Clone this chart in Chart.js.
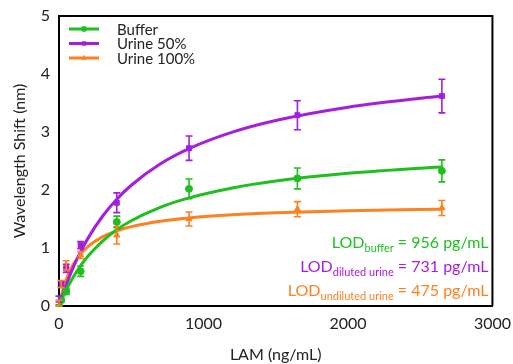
<!DOCTYPE html>
<html>
<head>
<meta charset="utf-8">
<script src="https://cdn.jsdelivr.net/npm/chart.js@4/dist/chart.umd.min.js"></script>
<style>
html,body{margin:0;padding:0;background:#fff;}
#wrap{width:513px;height:364px;}
</style>
</head>
<body>
<div id="wrap"><canvas id="c" width="513" height="364"></canvas></div>
<script>
// ---- data ----
const xPoints   = [0, 15, 50, 150, 400, 900, 1650, 2650];
const bufferY   = [0, 0.10, 0.25, 0.60, 1.45, 2.02, 2.20, 2.33];
const bufferErr = [0.02, 0.03, 0.05, 0.09, 0.10, 0.17, 0.18, 0.19];
const urine50Y   = [0.12, 0.37, 0.65, 1.05, 1.78, 2.72, 3.29, 3.62];
const urine50Err = [0.05, 0.05, 0.07, 0.06, 0.17, 0.21, 0.25, 0.29];
const urine100Y   = [0.05, 0.38, 0.70, 0.88, 1.22, 1.50, 1.67, 1.69];
const urine100Err = [0.05, 0.06, 0.08, 0.06, 0.15, 0.12, 0.13, 0.13];

// fitted curves
const fitX        = [0, 25, 50, 100, 150, 200, 300, 400, 500, 700, 900, 1200, 1500, 2000, 2500, 2656];
const bufferFit   = [0, 0.146, 0.278, 0.505, 0.696, 0.857, 1.115, 1.313, 1.470, 1.702, 1.865, 2.036, 2.155, 2.288, 2.377, 2.398];
const urine50Fit  = [0, 0.190, 0.365, 0.673, 0.937, 1.166, 1.543, 1.841, 2.082, 2.448, 2.713, 2.997, 3.198, 3.427, 3.581, 3.620];
const urine100Fit = [0, 0.261, 0.455, 0.723, 0.899, 1.025, 1.191, 1.295, 1.368, 1.461, 1.518, 1.572, 1.606, 1.642, 1.664, 1.670];

const seriesNames = ['Buffer', 'Urine 50%', 'Urine 100%'];
const xTicks = [0, 1000, 2000, 3000];
const yTicks = [0, 1, 2, 3, 4, 5];
const lodLines = [
  ['LOD', 'buffer', ' = 956 pg/mL'],
  ['LOD', 'diluted urine', ' = 731 pg/mL'],
  ['LOD', 'undiluted urine', ' = 475 pg/mL']
];

const colors = ['#1fbf1f', '#a41ee0', '#ff8020'];
const styles = ['circle', 'rect', 'triangle'];
const FONT = 'Lato, "Open Sans", sans-serif';

const pts = (xs, ys) => xs.map((x, i) => ({x: x, y: ys[i]}));
const pointSets = [bufferY, urine50Y, urine100Y];
const errSets = [bufferErr, urine50Err, urine100Err];
const fitSets = [bufferFit, urine50Fit, urine100Fit];

const datasets = [];
for (let s = 0; s < 3; s++) {
  datasets.push({
    label: seriesNames[s] + ' fit',
    data: pts(fitX, fitSets[s]),
    showLine: true,
    borderColor: colors[s],
    borderWidth: 3,
    pointRadius: 0,
    cubicInterpolationMode: 'monotone',
    fill: false,
    order: 2
  });
}
for (let s = 0; s < 3; s++) {
  datasets.push({
    label: seriesNames[s],
    data: pts(xPoints, pointSets[s]),
    showLine: false,
    backgroundColor: colors[s],
    borderColor: colors[s],
    pointStyle: styles[s],
    pointRadius: 3.5,
    borderWidth: 1,
    errors: errSets[s],
    order: 1
  });
}

const decor = {
  id: 'decor',
  afterDatasetsDraw(chart) {
    const ctx = chart.ctx;
    const xs = chart.scales.x, ys = chart.scales.y;
    const a = chart.chartArea;
    ctx.save();
    // error bars
    for (let s = 0; s < 3; s++) {
      const ds = chart.data.datasets[3 + s];
      ctx.strokeStyle = colors[s];
      ctx.lineWidth = 1.6;
      ds.data.forEach((p, i) => {
        const e = ds.errors[i];
        const px = xs.getPixelForValue(p.x);
        const y1 = ys.getPixelForValue(p.y + e);
        const y2 = ys.getPixelForValue(Math.max(0, p.y - e));
        ctx.beginPath();
        ctx.moveTo(px, y1); ctx.lineTo(px, y2);
        ctx.moveTo(px - 3.5, y1); ctx.lineTo(px + 3.5, y1);
        ctx.moveTo(px - 3.5, y2); ctx.lineTo(px + 3.5, y2);
        ctx.stroke();
      });
    }
    // top and right frame
    ctx.strokeStyle = '#000';
    ctx.lineWidth = 2;
    ctx.beginPath();
    ctx.moveTo(a.left, a.top); ctx.lineTo(a.right, a.top); ctx.lineTo(a.right, a.bottom);
    ctx.stroke();
    // legend
    ctx.font = '15px ' + FONT;
    ctx.textBaseline = 'middle';
    ctx.textAlign = 'left';
    for (let s = 0; s < 3; s++) {
      const y = a.top + 13 + s * 14.5;
      ctx.strokeStyle = colors[s];
      ctx.lineWidth = 3;
      ctx.beginPath(); ctx.moveTo(a.left + 10, y); ctx.lineTo(a.left + 40, y); ctx.stroke();
      ctx.fillStyle = colors[s];
      ctx.lineWidth = 0.5;
      Chart.helpers.drawPoint(ctx, {pointStyle: styles[s], radius: 2.8, borderWidth: 0.5, rotation: 0}, a.left + 25, y);
      ctx.fillStyle = '#222';
      ctx.fillText(seriesNames[s], a.left + 58, y + 1);
    }
    // LOD annotations
    const big = '16px ' + FONT, small = '11px ' + FONT;
    const right = a.right - 4;
    for (let s = 0; s < 3; s++) {
      const [m, sub, rest] = lodLines[s];
      const base = a.bottom - 58 + s * 24;
      ctx.font = big; const w1 = ctx.measureText(m).width; const w3 = ctx.measureText(rest).width;
      ctx.font = small; const w2 = ctx.measureText(sub).width;
      let x = right - (w1 + w2 + w3);
      ctx.fillStyle = colors[s];
      ctx.textBaseline = 'alphabetic';
      ctx.font = big; ctx.fillText(m, x, base); x += w1;
      ctx.font = small; ctx.fillText(sub, x, base + 4); x += w2;
      ctx.font = big; ctx.fillText(rest, x, base);
    }
    ctx.restore();
  }
};

new Chart(document.getElementById('c'), {
  type: 'scatter',
  data: {datasets: datasets},
  options: {
    responsive: false,
    animation: false,
    layout: {padding: {top: 16, right: 19, left: 0, bottom: 0}},
    plugins: {legend: {display: false}, tooltip: {enabled: false}},
    scales: {
      x: {
        type: 'linear', min: 0, max: 3000,
        afterBuildTicks: sc => { sc.ticks = xTicks.map(v => ({value: v})); },
        afterFit: sc => { sc.height = 58; },
        grid: {display: false, drawTicks: true, tickLength: 6, tickColor: '#000', tickWidth: 1.5},
        border: {display: true, color: '#000', width: 2},
        ticks: {color: '#222', font: {size: 16, family: FONT}, padding: 2, callback: v => String(v)},
        title: {display: true, text: 'LAM (ng/mL)', color: '#222', font: {size: 16, family: FONT}, padding: {top: 2, bottom: 0}}
      },
      y: {
        type: 'linear', min: 0, max: 5,
        afterBuildTicks: sc => { sc.ticks = yTicks.map(v => ({value: v})); },
        afterFit: sc => { sc.width = 59; },
        grid: {display: false, drawTicks: true, tickLength: 6, tickColor: '#000', tickWidth: 1.5},
        border: {display: true, color: '#000', width: 2},
        ticks: {color: '#222', font: {size: 16, family: FONT}, padding: 3, callback: v => String(v)},
        title: {display: true, text: 'Wavelength Shift (nm)', color: '#222', font: {size: 16, family: FONT}, padding: {top: 10, bottom: 0}}
      }
    }
  },
  plugins: [decor]
});
</script>
</body>
</html>
